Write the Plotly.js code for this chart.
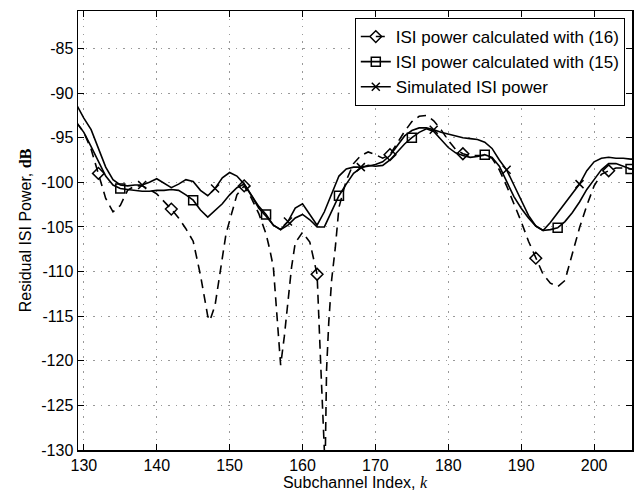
<!DOCTYPE html>
<html><head><meta charset="utf-8">
<script src="https://cdn.plot.ly/plotly-3.0.1.min.js"></script>
<style>html,body{margin:0;padding:0;background:#fff}#chart{width:635px;height:495px}</style>
</head><body><div id="chart"></div>
<script>
const seriesNames = ['ISI power calculated with (16)', 'ISI power calculated with (15)', 'Simulated ISI power'];

const subchannels = [129,130,131,132,133,134,135,136,137,138,139,140,141,142,143,144,145,146,147,148,149,150,151,152,153,154,155,156,157,158,159,160,161,162,163,164,165,166,167,168,169,170,171,172,173,174,175,176,177,178,179,180,181,182,183,184,185,186,187,188,189,190,191,192,193,194,195,196,197,198,199,200,201,202,203,204,205,206];

const simulatedPower = [-91.3,-92.8,-94.1,-96.3,-98.3,-99.7,-100.3,-100.4,-100.3,-100.3,-100.0,-99.6,-100.1,-100.6,-100.2,-99.7,-99.9,-100.9,-101.5,-100.7,-99.5,-98.9,-99.3,-100.2,-101.5,-102.9,-103.8,-104.8,-105.3,-104.4,-102.9,-102.4,-103.6,-104.8,-103.3,-101.2,-99.3,-98.5,-98.3,-98.3,-98.2,-98.0,-97.7,-97.0,-95.9,-94.8,-94.2,-93.9,-93.9,-94.1,-94.4,-94.6,-94.8,-95.0,-95.1,-95.2,-95.5,-96.2,-97.5,-98.6,-100.3,-102.1,-103.7,-104.9,-105.4,-104.5,-103.4,-102.4,-101.2,-100.2,-98.7,-97.7,-97.3,-97.2,-97.3,-97.3,-97.4,-97.4];

const eq15Power = [-93.3,-94.4,-96.0,-97.7,-99.3,-100.3,-100.7,-100.8,-100.9,-101.0,-101.0,-100.9,-100.9,-100.8,-100.9,-101.4,-102.0,-103.1,-103.9,-103.2,-102.4,-101.4,-100.6,-100.2,-101.4,-102.7,-103.6,-104.8,-105.3,-104.8,-104.0,-103.6,-104.2,-105.0,-105.0,-103.3,-101.5,-100.2,-99.0,-98.4,-98.1,-98.2,-98.1,-97.5,-96.6,-95.7,-95.0,-94.4,-94.0,-94.3,-95.2,-96.1,-96.7,-97.0,-97.2,-97.1,-96.9,-97.2,-98.2,-100.0,-101.6,-102.9,-104.0,-104.9,-105.4,-105.3,-105.1,-104.4,-103.4,-102.2,-100.8,-99.7,-98.6,-97.9,-97.9,-98.2,-98.5,-98.6];

const subchannelsEq16 = [129,130,131,132,133,134,135,136,137,138,139,140,141,142,143,144,145,146,147,147.3,148,148.5,149,149.5,150,151,152,153,154,155,155.5,156,156.5,157,157.5,158,158.5,159,160,161,161.5,162,162.5,163,163.1,163.3,163.6,164,164.5,165,166,167,168,169,170,171,172,173,174,175,176,177,178,179,180,181,182,183,184,185,186,187,188,189,190,191,192,193,194,195,196,197,198,199,200,201,202,203,204,205,206];

const eq16Power = [-93.3,-94.4,-96.3,-99.0,-101.8,-103.3,-102.6,-100.9,-100.4,-100.4,-100.8,-101.3,-102.1,-103.0,-104.0,-105.2,-106.6,-110.4,-115.0,-115.5,-113.8,-111.0,-108.3,-105.8,-104.3,-101.4,-100.4,-101.8,-103.5,-105.8,-107.5,-109.5,-115.0,-120.5,-117.3,-113.1,-109.5,-106.8,-105.6,-106.7,-108.6,-110.3,-120.5,-128.5,-132.0,-121.0,-115.7,-110.9,-107.3,-102.8,-99.8,-97.9,-97.0,-96.6,-96.9,-97.3,-96.9,-95.6,-94.3,-93.2,-92.6,-92.5,-93.1,-94.1,-95.3,-96.3,-96.8,-97.0,-97.0,-97.0,-97.3,-98.6,-100.4,-102.3,-104.4,-106.6,-108.5,-110.3,-111.3,-111.7,-111.0,-108.2,-105.1,-102.6,-100.4,-99.1,-98.7,-98.4,-98.4,-98.5,-98.6];

const eq16MarkerK = [132,142,152,162,172,182,192,202];
const eq15MarkerK = [135,145,155,165,175,185,195,205];
const simMarkerK = [138,148,158,168,178,188,198];

const xTicks = [130,140,150,160,170,180,190,200];
const yTicks = [-130,-125,-120,-115,-110,-105,-100,-95,-90,-85];

function pick(ks, vs, sel) {
  const x = [], y = [];
  ks.forEach((k, i) => { if (sel.includes(k)) { x.push(k); y.push(vs[i]); } });
  return {x, y};
}

const black = '#000';
const lw = 1.6;
const dashPat = '9px,6px';
const styles = [
  {dash: dashPat, symbol: 'diamond-open', size: 9},
  {dash: 'solid', symbol: 'square-open', size: 9},
  {dash: 'solid', symbol: 'x-thin-open', size: 8}
];
const dataSets = [
  {k: subchannelsEq16, v: eq16Power, m: eq16MarkerK},
  {k: subchannels, v: eq15Power, m: eq15MarkerK},
  {k: subchannels, v: simulatedPower, m: simMarkerK}
];

const traces = [];
dataSets.forEach((d, i) => {
  const s = styles[i];
  traces.push({x: d.k, y: d.v, type: 'scatter', mode: 'lines', showlegend: false,
    line: {color: black, width: lw, dash: s.dash}, hoverinfo: 'skip', cliponaxis: true});
  const p = pick(d.k, d.v, d.m);
  traces.push({x: p.x, y: p.y, type: 'scatter', mode: 'markers', showlegend: false,
    marker: {symbol: s.symbol, size: s.size, color: black, line: {color: black, width: 1.5}}, cliponaxis: true});
});
dataSets.forEach((d, i) => {
  const s = styles[i];
  traces.push({x: [null], y: [null], type: 'scatter', mode: 'lines+markers', name: seriesNames[i],
    line: {color: black, width: lw, dash: s.dash},
    marker: {symbol: s.symbol, size: s.size, color: black, line: {color: black, width: 1.5}}});
});

const fontFam = '"Liberation Sans", Arial, Helvetica, sans-serif';
const layout = {
  width: 635, height: 495,
  margin: {l: 78, r: 3, t: 11, b: 45},
  paper_bgcolor: '#fff', plot_bgcolor: '#fff',
  font: {family: fontFam, size: 16, color: '#000'},
  showlegend: true,
  legend: {x: 0.987, xanchor: 'right', y: 0.984, yanchor: 'top',
    bgcolor: '#fff', bordercolor: '#000', borderwidth: 1,
    font: {family: fontFam, size: 17, color: '#000'}, tracegroupgap: 0},
  xaxis: {
    range: [129.2, 205.2], tickvals: xTicks, ticktext: xTicks.map(String),
    ticks: 'inside', ticklen: 6, tickwidth: 1, tickcolor: '#000',
    showline: true, linecolor: '#000', linewidth: 1.5, mirror: 'ticks',
    showgrid: true, gridcolor: '#999', griddash: '1.5px,6px', gridwidth: 1,
    zeroline: false,
    tickfont: {size: 16},
    title: {text: 'Subchannel Index, <i><span style="font-family:Liberation Serif">k</span></i>', font: {size: 16}, standoff: 3}
  },
  yaxis: {
    range: [-130, -80.8], tickvals: yTicks, ticktext: yTicks.map(String),
    ticks: 'inside', ticklen: 6, tickwidth: 1, tickcolor: '#000',
    showline: true, linecolor: '#000', linewidth: 1.5, mirror: 'ticks',
    showgrid: true, gridcolor: '#999', griddash: '1.5px,6px', gridwidth: 1,
    zeroline: false,
    tickfont: {size: 16},
    title: {text: 'Residual ISI Power, <b><span style="font-family:Liberation Serif">dB</span></b>', font: {size: 16}, standoff: 5}
  }
};
Plotly.newPlot('chart', traces, layout, {staticPlot: true, displayModeBar: false});
</script></body></html>
